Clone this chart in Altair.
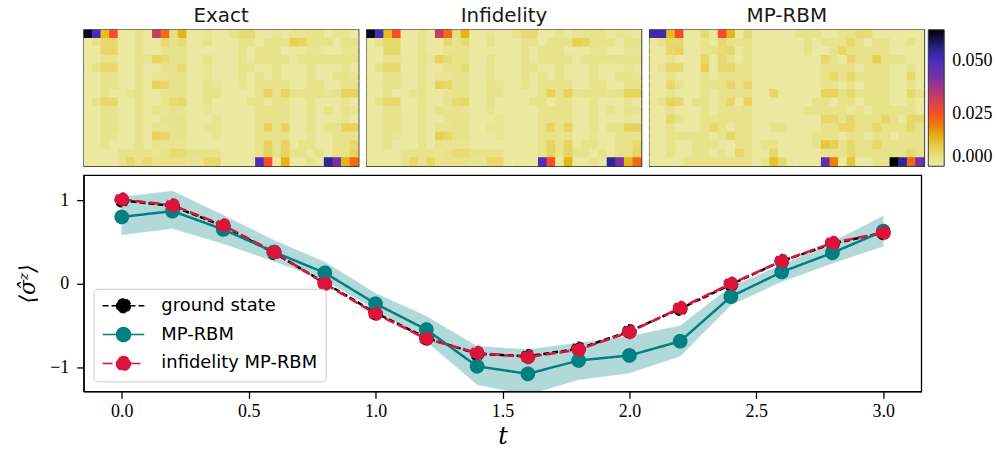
import altair as alt
import pandas as pd

# ---------------- line-chart data ----------------
t = [0.0, 0.2, 0.4, 0.6, 0.8, 1.0, 1.2, 1.4, 1.6, 1.8, 2.0, 2.2, 2.4, 2.6, 2.8, 3.0]
ground = [1.00, 0.93, 0.69, 0.37, 0.01, -0.35, -0.65, -0.84, -0.87, -0.78, -0.57, -0.30, -0.01, 0.27, 0.48, 0.61]
mp_rbm = [0.80, 0.87, 0.65, 0.38, 0.13, -0.24, -0.55, -0.99, -1.08, -0.92, -0.86, -0.69, -0.155, 0.14, 0.37, 0.63]
mp_lo = [0.585, 0.66, 0.48, 0.27, 0.04, -0.31, -0.69, -1.21, -1.33, -1.15, -1.07, -0.87, -0.255, 0.025, 0.245, 0.45]
mp_hi = [1.04, 1.11, 0.82, 0.52, 0.26, -0.115, -0.39, -0.75, -0.79, -0.71, -0.63, -0.505, -0.035, 0.22, 0.50, 0.81]
infid = [1.01, 0.94, 0.70, 0.38, 0.00, -0.36, -0.66, -0.83, -0.88, -0.79, -0.58, -0.29, 0.00, 0.27, 0.49, 0.61]

series_names = ["ground state", "MP-RBM", "infidelity MP-RBM"]
series_colors = ["#000000", "#008080", "#dc143c"]
series_dash = [[6, 3], [1, 0], [10, 4]]

# ---------------- heatmap data (units of 1e-3) ----------------
exact = [
    [63, 51, 13, 26, 1, 1, 4, 1, 33, 22, 5, 14, 1, 1, 3, 1, 1, 4, 6, 6, 1, 1, 3, 1, 3, 3, 4, 4, 1, 3, 3, 1],
    [1, 4, 7, 7, 1, 1, 4, 1, 1, 6, 4, 6, 1, 1, 4, 1, 1, 1, 4, 4, 1, 4, 4, 4, 9, 8, 4, 4, 4, 1, 4, 4],
    [1, 1, 7, 7, 1, 1, 4, 1, 1, 4, 4, 4, 1, 1, 1, 1, 1, 1, 4, 1, 4, 4, 4, 1, 1, 1, 3, 3, 1, 1, 3, 3],
    [1, 1, 4, 4, 1, 1, 4, 3, 8, 6, 4, 4, 1, 1, 4, 1, 1, 1, 4, 1, 4, 4, 4, 4, 1, 4, 4, 4, 4, 4, 4, 4],
    [1, 4, 7, 7, 1, 1, 4, 1, 1, 4, 4, 6, 1, 1, 3, 1, 1, 1, 4, 4, 1, 1, 4, 1, 1, 1, 4, 1, 1, 1, 3, 1],
    [1, 1, 4, 4, 1, 1, 4, 1, 3, 3, 4, 4, 1, 1, 3, 1, 1, 1, 4, 1, 4, 1, 4, 1, 1, 1, 4, 1, 1, 4, 4, 3],
    [1, 1, 4, 4, 1, 1, 4, 1, 8, 7, 4, 4, 1, 1, 4, 3, 1, 1, 3, 1, 4, 4, 4, 4, 1, 1, 4, 4, 1, 1, 4, 4],
    [1, 1, 4, 1, 1, 3, 4, 1, 1, 3, 4, 4, 1, 1, 4, 4, 1, 1, 1, 1, 4, 8, 4, 8, 4, 4, 4, 4, 3, 4, 8, 8],
    [1, 4, 7, 7, 1, 1, 4, 1, 1, 4, 6, 7, 1, 1, 4, 1, 1, 1, 1, 4, 4, 1, 4, 4, 1, 1, 4, 1, 1, 1, 3, 1],
    [1, 1, 4, 4, 1, 1, 4, 1, 4, 3, 4, 3, 1, 1, 3, 1, 1, 1, 1, 1, 4, 4, 4, 4, 1, 1, 4, 1, 4, 1, 4, 3],
    [1, 1, 4, 4, 1, 1, 4, 1, 1, 4, 4, 4, 1, 1, 1, 3, 1, 1, 1, 1, 4, 4, 4, 4, 1, 1, 4, 1, 1, 1, 3, 1],
    [1, 1, 4, 4, 1, 1, 4, 1, 4, 3, 4, 4, 1, 1, 3, 3, 1, 1, 1, 1, 4, 8, 4, 8, 1, 1, 4, 1, 4, 4, 8, 8],
    [1, 1, 4, 3, 1, 1, 4, 1, 8, 7, 4, 4, 1, 1, 1, 3, 1, 1, 1, 1, 4, 4, 4, 4, 1, 1, 3, 1, 1, 4, 4, 3],
    [1, 1, 4, 1, 1, 1, 4, 1, 4, 3, 3, 3, 1, 1, 1, 1, 1, 1, 1, 1, 4, 8, 4, 8, 1, 4, 4, 1, 1, 4, 4, 7],
    [1, 1, 1, 1, 4, 4, 4, 4, 3, 4, 6, 6, 4, 4, 4, 4, 1, 1, 1, 1, 4, 8, 4, 8, 4, 4, 1, 4, 1, 4, 4, 8],
    [1, 1, 1, 1, 4, 7, 4, 7, 4, 4, 4, 4, 3, 3, 7, 7, 1, 1, 1, 1, 49, 26, 1, 14, 1, 1, 4, 1, 55, 43, 14, 22],
]

infidelity = [
    [63, 51, 13, 26, 1, 1, 4, 1, 33, 22, 5, 14, 1, 1, 3, 1, 1, 4, 6, 6, 1, 1, 3, 1, 3, 3, 4, 4, 1, 3, 3, 1],
    [1, 4, 7, 7, 1, 1, 4, 1, 1, 6, 4, 6, 1, 1, 4, 1, 1, 1, 4, 4, 1, 4, 4, 4, 9, 8, 4, 4, 4, 1, 4, 4],
    [1, 1, 7, 7, 1, 1, 4, 1, 1, 4, 4, 4, 1, 1, 1, 1, 1, 1, 4, 1, 4, 4, 4, 1, 1, 1, 3, 3, 1, 1, 3, 3],
    [1, 1, 4, 4, 1, 1, 4, 3, 8, 6, 4, 4, 1, 1, 4, 1, 1, 1, 4, 1, 4, 4, 4, 4, 1, 4, 4, 4, 4, 4, 4, 4],
    [1, 4, 7, 7, 1, 1, 4, 1, 1, 4, 4, 6, 1, 1, 3, 1, 1, 1, 4, 4, 1, 1, 4, 1, 1, 1, 4, 1, 1, 1, 3, 1],
    [1, 1, 4, 4, 1, 1, 4, 1, 3, 3, 4, 4, 1, 1, 3, 1, 1, 1, 4, 1, 4, 1, 4, 1, 1, 1, 4, 1, 1, 4, 4, 3],
    [1, 1, 4, 4, 1, 1, 4, 1, 8, 7, 4, 4, 1, 1, 4, 3, 1, 1, 3, 1, 4, 4, 4, 4, 1, 1, 4, 4, 1, 1, 4, 4],
    [1, 1, 4, 1, 1, 3, 4, 1, 1, 3, 4, 4, 1, 1, 4, 4, 1, 1, 1, 1, 4, 8, 4, 8, 4, 4, 4, 4, 3, 4, 8, 8],
    [1, 4, 7, 7, 1, 1, 4, 1, 1, 4, 6, 7, 1, 1, 4, 1, 1, 1, 1, 4, 4, 1, 4, 4, 1, 1, 4, 1, 1, 1, 3, 1],
    [1, 1, 4, 4, 1, 1, 4, 1, 4, 3, 4, 3, 1, 1, 3, 1, 1, 1, 1, 1, 4, 4, 4, 4, 1, 1, 4, 1, 4, 1, 4, 3],
    [1, 1, 4, 4, 1, 1, 4, 1, 1, 4, 4, 4, 1, 1, 1, 3, 1, 1, 1, 1, 4, 4, 4, 4, 1, 1, 4, 1, 1, 1, 3, 1],
    [1, 1, 4, 4, 1, 1, 4, 1, 4, 3, 4, 4, 1, 1, 3, 3, 1, 1, 1, 1, 4, 8, 4, 8, 1, 1, 4, 1, 4, 4, 8, 8],
    [1, 1, 4, 3, 1, 1, 4, 1, 9, 7, 4, 4, 1, 1, 1, 3, 1, 1, 1, 1, 4, 4, 4, 4, 1, 1, 3, 1, 1, 4, 4, 3],
    [1, 1, 4, 1, 1, 1, 4, 1, 4, 3, 3, 3, 1, 1, 1, 1, 1, 1, 1, 1, 4, 8, 4, 8, 1, 4, 4, 1, 1, 4, 4, 7],
    [1, 1, 1, 1, 4, 4, 4, 4, 3, 4, 6, 6, 4, 4, 4, 4, 1, 1, 1, 1, 4, 8, 4, 8, 4, 4, 1, 4, 1, 4, 4, 8],
    [1, 1, 1, 1, 4, 7, 4, 7, 4, 4, 4, 4, 3, 3, 7, 7, 1, 1, 1, 1, 49, 26, 1, 14, 1, 1, 4, 1, 55, 43, 14, 22],
]

mprbm = [
    [52, 52, 13, 26, 1, 1, 6, 1, 26, 14, 1, 6, 1, 1, 1, 1, 1, 4, 4, 4, 1, 1, 4, 4, 6, 6, 1, 1, 1, 1, 1, 1],
    [1, 4, 7, 7, 1, 1, 4, 1, 7, 4, 4, 4, 1, 1, 1, 1, 1, 1, 4, 1, 4, 4, 4, 7, 4, 1, 4, 4, 1, 1, 4, 1],
    [1, 1, 7, 8, 1, 1, 4, 4, 6, 7, 1, 4, 1, 1, 1, 1, 1, 1, 4, 1, 1, 4, 7, 4, 4, 4, 4, 4, 1, 1, 1, 1],
    [1, 1, 4, 1, 1, 1, 7, 1, 7, 4, 1, 4, 1, 1, 1, 1, 1, 1, 1, 1, 7, 4, 1, 7, 4, 4, 9, 4, 4, 4, 1, 1],
    [1, 4, 7, 7, 1, 1, 9, 1, 7, 7, 4, 4, 1, 1, 1, 1, 1, 1, 1, 1, 4, 4, 4, 4, 1, 4, 4, 4, 1, 1, 4, 1],
    [1, 1, 4, 1, 1, 1, 4, 1, 4, 4, 4, 4, 1, 1, 1, 1, 1, 1, 1, 1, 4, 7, 4, 7, 4, 4, 4, 4, 1, 1, 7, 1],
    [1, 1, 7, 4, 1, 1, 4, 4, 4, 7, 4, 7, 1, 1, 1, 1, 1, 1, 1, 1, 4, 4, 1, 4, 1, 4, 4, 4, 1, 1, 4, 1],
    [1, 1, 4, 1, 1, 1, 4, 1, 4, 4, 4, 4, 1, 1, 7, 1, 1, 1, 1, 1, 8, 8, 4, 7, 4, 4, 4, 4, 1, 1, 7, 4],
    [1, 4, 8, 7, 1, 4, 4, 1, 4, 7, 1, 8, 1, 1, 1, 1, 1, 1, 1, 4, 4, 1, 4, 4, 1, 4, 4, 4, 1, 1, 4, 1],
    [1, 1, 4, 1, 1, 1, 4, 1, 4, 4, 4, 4, 1, 1, 1, 1, 1, 1, 4, 4, 4, 4, 4, 1, 4, 1, 4, 4, 4, 4, 4, 1],
    [1, 1, 7, 4, 1, 1, 4, 4, 4, 4, 4, 4, 1, 1, 1, 1, 1, 1, 1, 1, 7, 7, 4, 7, 4, 4, 4, 7, 4, 1, 7, 7],
    [1, 1, 4, 1, 1, 1, 4, 7, 4, 1, 4, 4, 1, 1, 4, 4, 1, 1, 1, 1, 4, 4, 7, 7, 4, 4, 7, 4, 4, 4, 7, 4],
    [1, 1, 4, 4, 4, 4, 4, 1, 4, 7, 4, 4, 1, 1, 1, 1, 1, 1, 1, 4, 4, 4, 1, 4, 4, 1, 4, 4, 1, 4, 4, 4],
    [1, 1, 4, 1, 1, 4, 4, 4, 1, 1, 4, 4, 1, 4, 4, 1, 1, 1, 1, 4, 11, 9, 4, 7, 4, 4, 7, 4, 4, 4, 4, 4],
    [1, 1, 4, 1, 1, 4, 4, 1, 4, 1, 7, 4, 1, 1, 7, 1, 1, 1, 1, 1, 4, 4, 4, 7, 4, 4, 4, 4, 4, 4, 7, 4],
    [1, 1, 1, 1, 4, 4, 4, 4, 4, 4, 4, 4, 1, 4, 12, 7, 1, 1, 1, 1, 46, 19, 1, 11, 1, 1, 4, 4, 65, 55, 23, 44],
]

panel_titles = ["Exact", "Infidelity", "MP-RBM"]
cbar_ticks = [0.0, 0.025, 0.05]
cmap_values = [0.0, 0.001, 0.004, 0.007, 0.010, 0.013, 0.019, 0.026, 0.033, 0.042, 0.050, 0.056, 0.065]
cmap_colors = ["#eeeba6", "#ece8a0", "#e8e28a", "#e6d86a", "#e6cc45", "#e6be1c", "#ea8206",
               "#fa4a28", "#c83c60", "#7a32a8", "#4a2cc0", "#2a2690", "#000000"]


def heat_frame(mat):
    recs = []
    for r, row in enumerate(mat):
        for c, v in enumerate(row):
            recs.append({"row": r, "col": c, "value": v / 1000.0})
    return pd.DataFrame(recs)


cscale = alt.Scale(domain=cmap_values, range=cmap_colors, interpolate="rgb", clamp=True)
cbar_legend = alt.Legend(
    type="gradient", title=None, orient="right", offset=3, direction="vertical",
    gradientLength=137, gradientThickness=16, gradientStrokeColor="#333", gradientStrokeWidth=1,
    values=cbar_ticks, format=".3f", labelFont="Liberation Serif", labelFontSize=18,
    labelColor="black", labelOffset=8, labelBaseline="middle",
)


def heat(mat, title):
    return alt.Chart(heat_frame(mat)).mark_rect(
        width=alt.RelativeBandSize(band=1.08), height=alt.RelativeBandSize(band=1.1), clip=True
    ).encode(
        x=alt.X("col:O", axis=None),
        y=alt.Y("row:O", axis=None),
        color=alt.Color("value:Q", scale=cscale, legend=cbar_legend),
    ).properties(
        width=276, height=137,
        title=alt.Title(title, font="DejaVu Sans", fontSize=20, fontWeight="normal", color="#1a1a1a", offset=4),
        view=alt.ViewBackground(stroke="#333333", strokeWidth=1.3),
    )


top = alt.hconcat(heat(exact, panel_titles[0]), heat(infidelity, panel_titles[1]),
                  heat(mprbm, panel_titles[2]), spacing=6)

# ---------------- line chart ----------------
recs = []
for name, vals in zip(series_names, [ground, mp_rbm, infid]):
    for tt, v in zip(t, vals):
        recs.append({"t": tt, "value": v, "series": name})
line_df = pd.DataFrame(recs)
band_df = pd.DataFrame({"t": t, "lo": mp_lo, "hi": mp_hi})

xs = alt.Scale(domain=[-0.15, 3.15], nice=False, zero=False)
ys = alt.Scale(domain=[-1.29, 1.30], nice=False, zero=False)
xaxis = alt.Axis(values=[0.0, 0.5, 1.0, 1.5, 2.0, 2.5, 3.0], format=".1f", tickSize=7, labelPadding=4,
                 title="t", titleFont="DejaVu Serif", titleFontStyle="italic", titleFontSize=24,
                 titleFontWeight="normal", titlePadding=4, titleColor="black")
yaxis = alt.Axis(values=[-1, 0, 1], tickSize=7, labelPadding=8,
                 labelExpr="datum.value < 0 ? '\u2212' + format(-datum.value, 'd') : format(datum.value, 'd')",
                 title="\u27e8\u03c3\u0302\u1dbb\u27e9", titleFont="DejaVu Serif", titleFontStyle="italic",
                 titleFontSize=22, titleFontWeight="normal", titlePadding=10, titleColor="black")

ser_color = alt.Scale(domain=series_names, range=series_colors)
ser_dash = alt.Scale(domain=series_names, range=series_dash)

leg = alt.Legend(
    title=None, orient="bottom-left", offset=10, padding=8,
    fillColor="rgba(255,255,255,0.85)", strokeColor="#cccccc", cornerRadius=4,
    symbolType="M-3,0H3M1,0A1,1,0,1,1,-1,0A1,1,0,1,1,1,0Z", symbolSize=196,
    symbolOffset=13, labelOffset=29, rowPadding=9,
    labelFont="DejaVu Sans", labelFontSize=18, labelColor="black", labelLimit=400,
)

band = alt.Chart(band_df).mark_area(color="#008080", opacity=0.3, stroke="#008080",
                                    strokeOpacity=0.4, strokeWidth=1, clip=True).encode(
    x=alt.X("t:Q", scale=xs, axis=xaxis),
    y=alt.Y("lo:Q", scale=ys, axis=yaxis),
    y2="hi:Q",
)

lines = alt.Chart(line_df).mark_line(strokeWidth=2.5).encode(
    x=alt.X("t:Q", scale=xs),
    y=alt.Y("value:Q", scale=ys),
    color=alt.Color("series:N", scale=ser_color, legend=leg),
    strokeDash=alt.StrokeDash("series:N", scale=ser_dash, legend=leg),
    detail="series:N",
)

points = alt.Chart(line_df).mark_point(filled=True, size=150, opacity=1, strokeWidth=2.5).encode(
    x=alt.X("t:Q", scale=xs),
    y=alt.Y("value:Q", scale=ys),
    color=alt.Color("series:N", scale=ser_color, legend=leg),
    stroke=alt.Stroke("series:N", scale=ser_color, legend=leg),
    strokeDash=alt.StrokeDash("series:N", scale=ser_dash, legend=leg),
)

bottom = alt.layer(band, lines, points).properties(
    width=841, height=217,
    view=alt.ViewBackground(stroke="black", strokeWidth=1.3),
)

chart = alt.vconcat(top, bottom, spacing=7).resolve_scale(
    color="independent", stroke="independent", strokeDash="independent"
).resolve_legend(
    color="independent", stroke="independent", strokeDash="independent"
).properties(
    padding={"left": 16, "top": 4, "right": 4, "bottom": 4},
    background="white",
).configure_axis(
    labelFont="Liberation Serif", labelFontSize=18, labelColor="black",
    tickColor="black", domainColor="black", tickWidth=1.3, domainWidth=1.3, grid=False,
)

chart.save("out.html", embed_options={"renderer": "svg", "actions": False})
